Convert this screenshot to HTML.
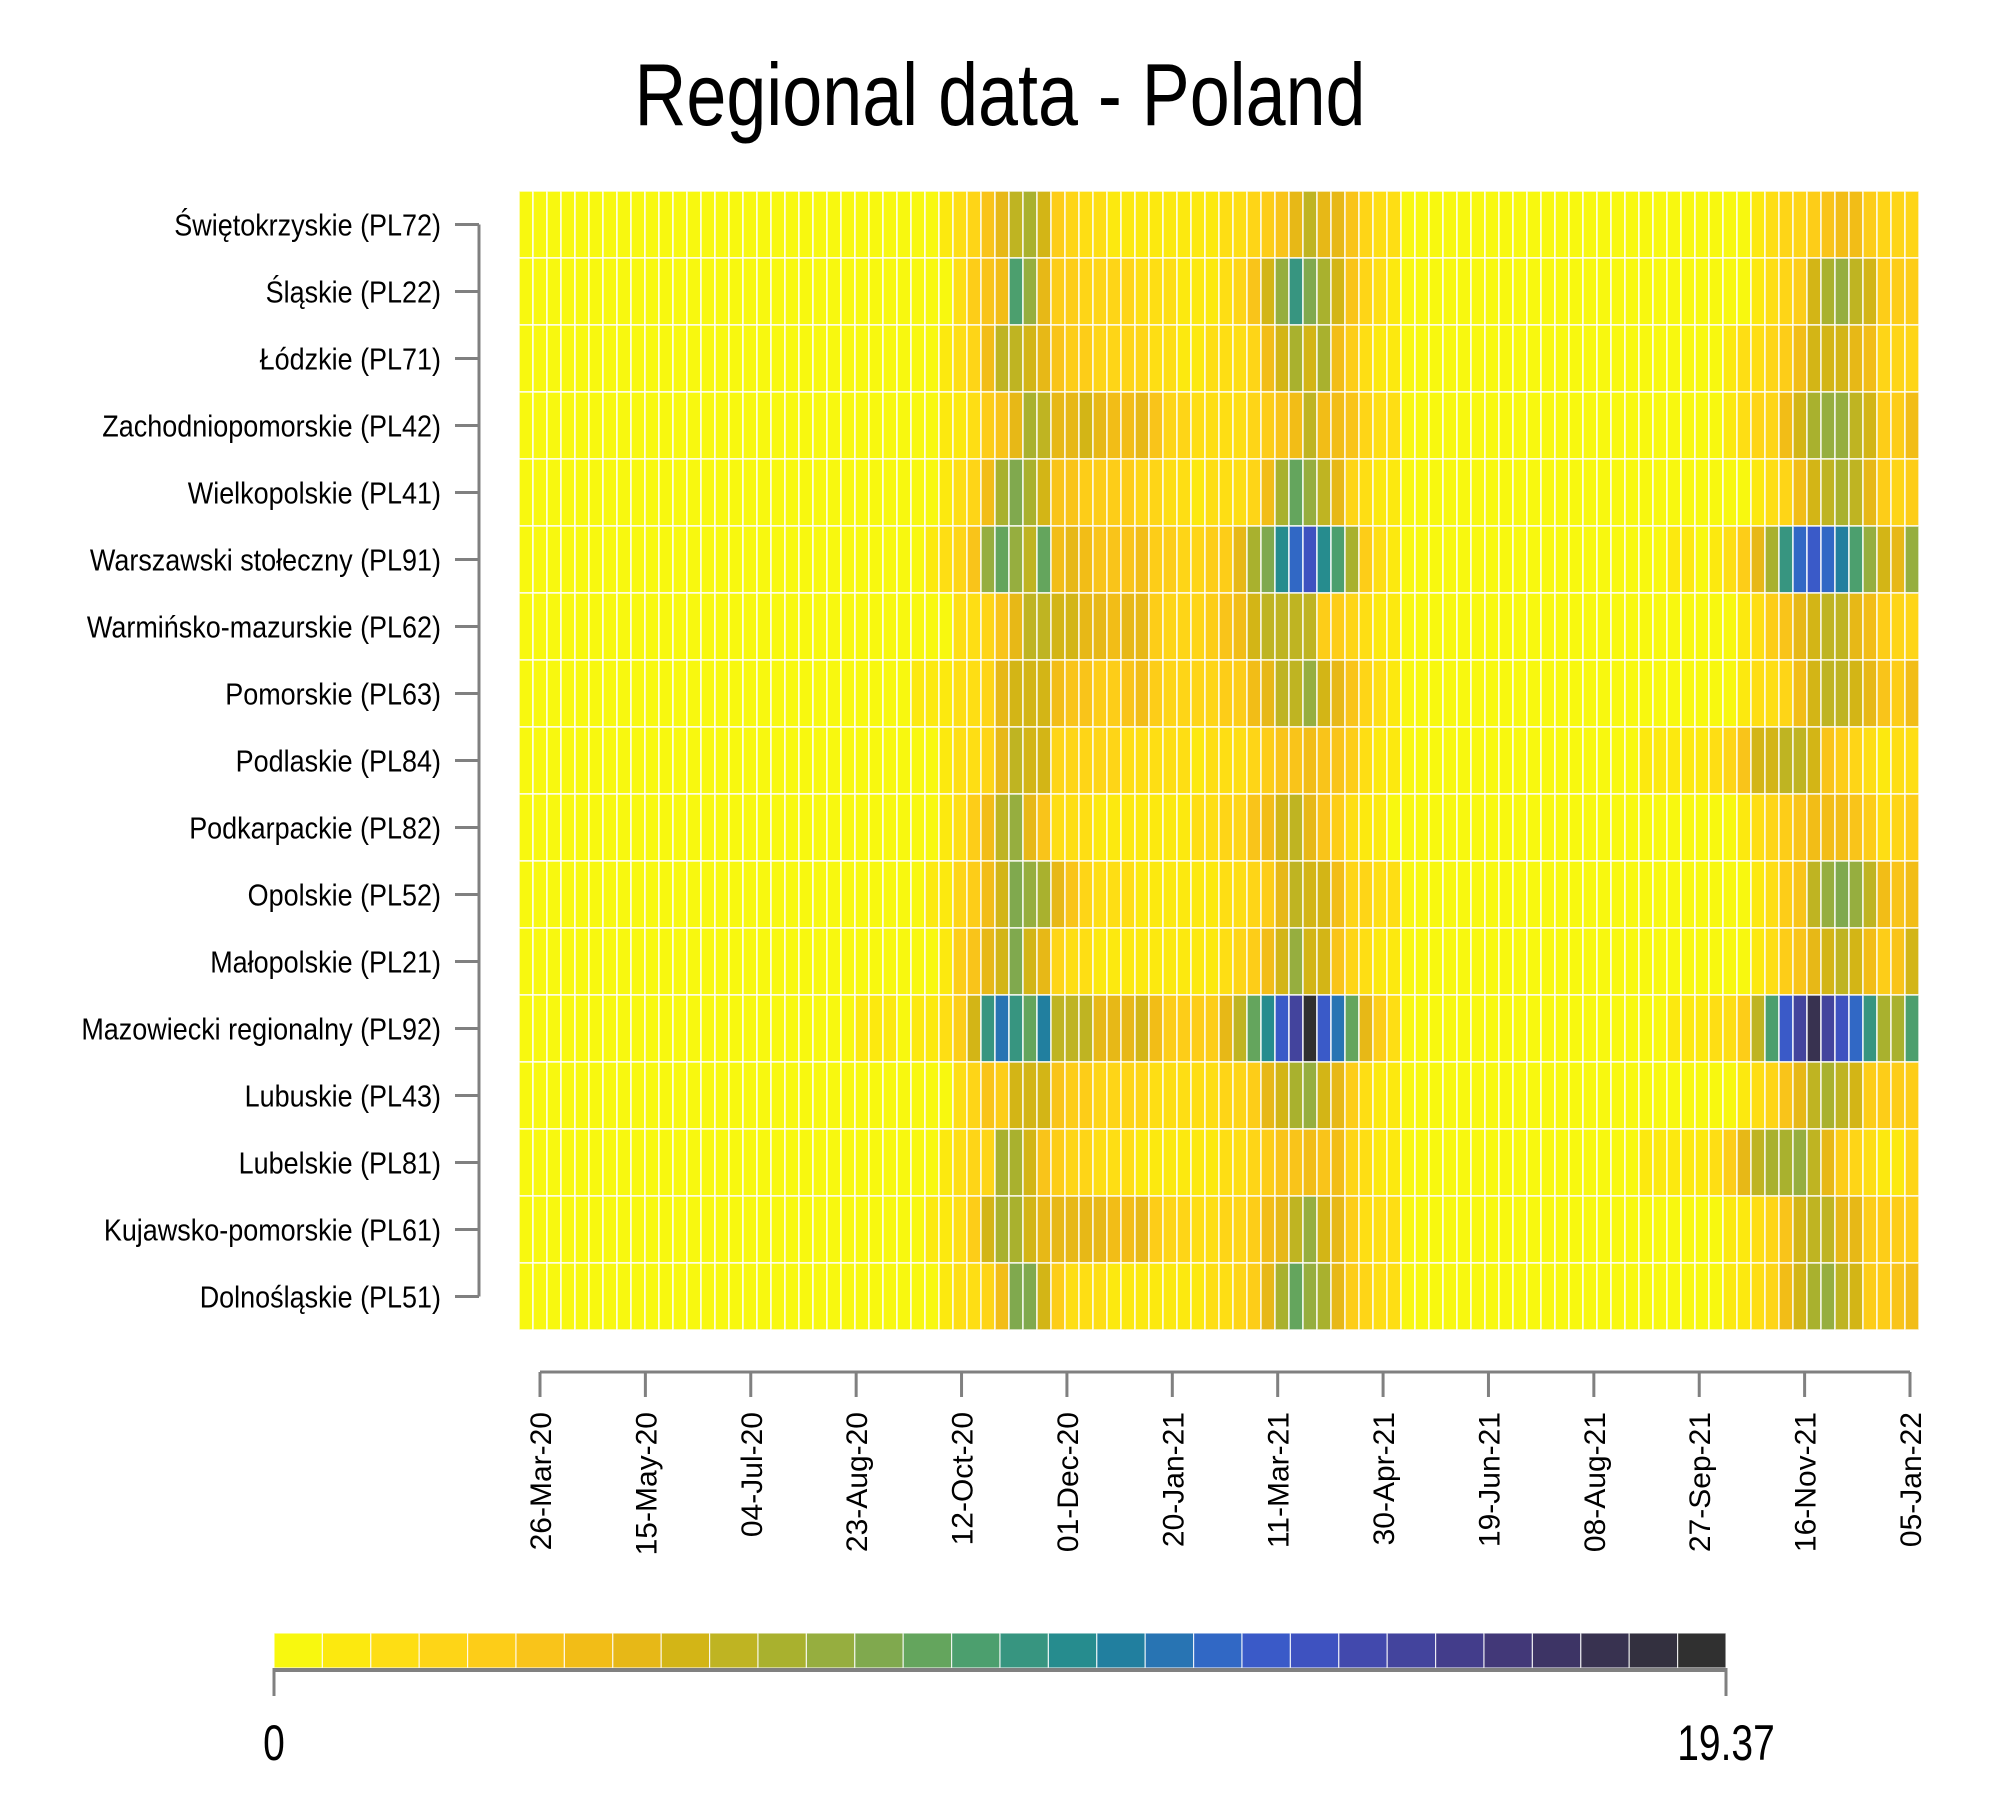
<!DOCTYPE html>
<html><head><meta charset="utf-8"><title>Regional data - Poland</title>
<style>html,body{margin:0;padding:0;background:#fff;}svg{display:block;font-family:"Liberation Sans","DejaVu Sans",sans-serif;}</style>
</head><body>
<svg id="chart" width="2000" height="1818" viewBox="0 0 2000 1818" xmlns="http://www.w3.org/2000/svg">
<rect x="0" y="0" width="2000" height="1818" fill="#fff"/>
<text x="1000" y="125" text-anchor="middle" font-size="88" textLength="731" lengthAdjust="spacingAndGlyphs" fill="#000">Regional data - Poland</text>
<g id="cells"></g>
<g id="yaxis"></g>
<g id="xaxis"></g>
<g id="legend"></g>
</svg>
<script>
const regions = ["Świętokrzyskie (PL72)","Śląskie (PL22)","Łódzkie (PL71)","Zachodniopomorskie (PL42)","Wielkopolskie (PL41)","Warszawski stołeczny (PL91)","Warmińsko-mazurskie (PL62)","Pomorskie (PL63)","Podlaskie (PL84)","Podkarpackie (PL82)","Opolskie (PL52)","Małopolskie (PL21)","Mazowiecki regionalny (PL92)","Lubuskie (PL43)","Lubelskie (PL81)","Kujawsko-pomorskie (PL61)","Dolnośląskie (PL51)"];
const xTickLabels = ["26-Mar-20","15-May-20","04-Jul-20","23-Aug-20","12-Oct-20","01-Dec-20","20-Jan-21","11-Mar-21","30-Apr-21","19-Jun-21","08-Aug-21","27-Sep-21","16-Nov-21","05-Jan-22"];
const xTickDates = ["2020-03-26","2020-05-15","2020-07-04","2020-08-23","2020-10-12","2020-12-01","2021-01-20","2021-03-11","2021-04-30","2021-06-19","2021-08-08","2021-09-27","2021-11-16","2022-01-05"];
const scaleMin = 0;
const scaleMax = 19.37;
const legendLabels = ["0","19.37"];
const palette = ["#f8f80f","#fce90f","#fede14","#fed517","#fdcd18","#f9c41a","#f2bd17","#e7b817","#d3b516","#bfb422","#a9b12e","#96ae3f","#80a94e","#64a55d","#4c9f6e","#379580","#268c8e","#217f9f","#2874b3","#3168c5","#3a5ac8","#3e52c0","#4249ad","#43449d","#433d8b","#423878","#3d3465","#383250","#33303f","#303030"];

const rowPL72 = [0.3,0.3,0.3,0.3,0.3,0.3,0.3,0.3,0.3,0.3,0.3,0.3,0.3,0.3,0.3,0.3,0.3,0.3,0.3,0.3,0.3,0.3,0.3,0.3,0.3,0.3,0.3,
0.3,0.3,0.3,1.0,1.6,2.3,3.6,4.8,6.1,6.8,5.5,2.9,2.3,1.6,1.6,1.0,1.0,1.0,1.0,1.0,1.0,1.0,1.0,1.6,1.6,2.3,2.9,3.6,4.8,6.1,4.8,4.8,3.6,2.3,1.6,1.6,
0.3,0.3,0.3,0.3,0.3,0.3,0.3,0.3,0.3,0.3,0.3,0.3,0.3,0.3,0.3,0.3,0.3,0.3,0.3,0.3,0.3,
0.3,0.3,0.3,0.3,1.0,1.6,2.3,2.3,2.9,3.6,4.2,4.2,2.9,2.3,2.3,2.3];
const rowPL22 = [0.3,0.3,0.3,0.3,0.3,0.3,0.3,0.3,0.3,0.3,0.3,0.3,0.3,0.3,0.3,0.3,0.3,0.3,0.3,0.3,0.3,0.3,0.3,0.3,0.3,0.3,0.3,
0.3,0.3,0.3,0.3,1.6,2.9,3.6,4.2,9.4,7.4,4.8,2.9,2.9,2.3,2.3,2.3,2.3,1.6,1.6,1.6,1.0,1.0,1.0,1.6,2.3,3.6,5.5,7.4,10.0,8.1,6.8,5.5,3.6,2.3,1.6,1.0,
0.3,0.3,0.3,0.3,0.3,0.3,0.3,0.3,0.3,0.3,0.3,0.3,0.3,0.3,0.3,0.3,0.3,0.3,0.3,0.3,0.3,
0.3,0.3,0.3,0.3,1.0,1.6,2.3,2.9,5.5,6.8,7.4,6.1,5.5,2.9,2.9,2.9];
const rowPL71 = [0.3,0.3,0.3,0.3,0.3,0.3,0.3,0.3,0.3,0.3,0.3,0.3,0.3,0.3,0.3,0.3,0.3,0.3,0.3,0.3,0.3,0.3,0.3,0.3,0.3,0.3,0.3,
0.3,0.3,0.3,1.0,1.6,2.3,4.2,6.1,6.1,5.5,4.8,3.6,2.9,2.9,2.3,2.3,2.3,2.3,1.6,1.6,1.0,1.0,1.6,1.6,1.6,2.3,4.2,5.5,6.8,5.5,6.8,4.2,2.9,1.6,1.0,1.0,
0.3,0.3,0.3,0.3,0.3,0.3,0.3,0.3,0.3,0.3,0.3,0.3,0.3,0.3,0.3,0.3,0.3,0.3,0.3,0.3,0.3,
0.3,0.3,1.0,1.6,1.6,2.3,2.9,4.2,5.5,5.5,5.5,4.8,4.2,2.3,2.3,2.3];
const rowPL42 = [0.3,0.3,0.3,0.3,0.3,0.3,0.3,0.3,0.3,0.3,0.3,0.3,0.3,0.3,0.3,0.3,0.3,0.3,0.3,0.3,0.3,0.3,0.3,0.3,0.3,0.3,0.3,
0.3,0.3,0.3,1.0,1.0,1.6,2.9,3.6,4.8,6.8,6.1,4.8,4.8,5.5,4.8,4.2,4.2,4.8,3.6,2.3,2.3,1.6,1.6,1.6,1.6,2.3,2.9,3.6,4.2,6.1,4.2,4.2,3.6,2.3,1.6,1.6,
0.3,0.3,0.3,0.3,0.3,0.3,0.3,0.3,0.3,0.3,0.3,0.3,0.3,0.3,0.3,0.3,0.3,0.3,0.3,0.3,0.3,
0.3,0.3,1.0,1.6,2.3,2.3,4.2,5.5,6.8,7.4,7.4,6.1,5.5,2.9,2.9,4.2];
const rowPL41 = [0.3,0.3,0.3,0.3,0.3,0.3,0.3,0.3,0.3,0.3,0.3,0.3,0.3,0.3,0.3,0.3,0.3,0.3,0.3,0.3,0.3,0.3,0.3,0.3,0.3,0.3,0.3,
0.3,0.3,0.3,1.0,1.6,2.3,4.2,6.8,8.1,6.8,5.5,3.6,3.6,2.9,2.9,2.9,2.9,2.3,2.3,1.6,1.6,1.0,1.6,1.6,1.6,2.3,4.2,6.8,8.7,7.4,6.1,4.8,2.3,1.6,1.0,1.0,
0.3,0.3,0.3,0.3,0.3,0.3,0.3,0.3,0.3,0.3,0.3,0.3,0.3,0.3,0.3,0.3,0.3,0.3,0.3,0.3,0.3,
0.3,0.3,0.3,0.3,1.0,1.6,2.3,4.2,5.5,6.1,6.8,6.1,4.8,2.9,2.3,2.9];
const rowPL91 = [0.3,0.3,0.3,0.3,0.3,0.3,0.3,0.3,0.3,0.3,0.3,0.3,0.3,0.3,0.3,0.3,0.3,0.3,0.3,0.3,0.3,0.3,0.3,0.3,0.3,0.3,0.3,
0.3,0.3,1.0,1.6,2.3,3.6,7.4,8.7,7.4,6.1,8.7,4.2,4.8,4.2,3.6,3.6,3.6,4.2,2.9,2.9,2.3,2.3,2.9,2.9,4.8,6.8,8.1,10.7,12.6,13.9,10.7,9.4,6.8,2.9,1.6,1.0,
0.3,0.3,0.3,0.3,0.3,0.3,0.3,0.3,0.3,0.3,0.3,0.3,0.3,0.3,0.3,0.3,0.3,0.3,0.3,1.0,1.0,
0.3,1.0,1.6,2.9,4.8,6.8,10.0,12.6,13.2,12.6,11.3,9.4,7.4,5.5,4.8,7.4];
const rowPL62 = [0.3,0.3,0.3,0.3,0.3,0.3,0.3,0.3,0.3,0.3,0.3,0.3,0.3,0.3,0.3,0.3,0.3,0.3,0.3,0.3,0.3,0.3,0.3,0.3,0.3,0.3,0.3,
0.3,0.3,0.3,0.3,1.6,1.6,2.3,3.6,4.8,6.1,6.1,5.5,5.5,4.8,4.8,4.2,4.8,4.8,2.9,2.3,2.3,2.3,2.9,3.6,4.2,5.5,6.1,6.1,6.1,6.1,2.9,2.9,2.3,1.6,1.0,1.0,
0.3,0.3,0.3,0.3,0.3,0.3,0.3,0.3,0.3,0.3,0.3,0.3,0.3,0.3,0.3,0.3,0.3,0.3,0.3,0.3,0.3,
0.3,0.3,0.3,1.0,1.6,2.9,3.6,4.8,5.5,6.1,6.1,4.8,4.2,2.9,2.3,2.3];
const rowPL63 = [0.3,0.3,0.3,0.3,0.3,0.3,0.3,0.3,0.3,0.3,0.3,0.3,0.3,0.3,0.3,0.3,0.3,0.3,0.3,0.3,0.3,0.3,0.3,0.3,0.3,0.3,0.3,
0.3,1.0,1.0,1.0,1.6,1.6,2.3,4.8,5.5,5.5,5.5,4.2,3.6,3.6,2.9,2.9,3.6,4.2,2.9,2.3,2.3,2.3,2.3,2.9,2.9,4.2,4.8,6.1,6.1,7.4,5.5,4.8,3.6,2.3,1.6,1.0,
0.3,0.3,0.3,0.3,0.3,0.3,0.3,0.3,0.3,0.3,0.3,0.3,0.3,0.3,0.3,0.3,0.3,0.3,0.3,0.3,0.3,
0.3,0.3,0.3,1.0,1.6,1.6,2.3,4.2,5.5,6.1,6.1,5.5,4.8,3.6,2.9,4.2];
const rowPL84 = [0.3,0.3,0.3,0.3,0.3,0.3,0.3,0.3,0.3,0.3,0.3,0.3,0.3,0.3,0.3,0.3,0.3,0.3,0.3,0.3,0.3,0.3,0.3,0.3,0.3,0.3,0.3,
0.3,0.3,0.3,1.0,1.6,1.6,2.3,4.8,6.1,5.5,5.5,2.3,2.3,2.3,2.3,2.3,1.6,1.6,1.6,1.6,1.6,1.0,1.6,1.6,1.6,2.3,2.9,3.6,3.6,4.2,3.6,3.6,2.9,1.6,1.0,1.0,
0.3,0.3,0.3,0.3,0.3,0.3,0.3,0.3,0.3,0.3,0.3,0.3,0.3,0.3,0.3,0.3,0.3,1.0,1.0,1.0,1.0,
1.0,1.6,2.3,3.6,5.5,5.5,6.1,6.1,5.5,3.6,2.9,2.3,1.6,1.0,1.6,1.6];
const rowPL82 = [0.3,0.3,0.3,0.3,0.3,0.3,0.3,0.3,0.3,0.3,0.3,0.3,0.3,0.3,0.3,0.3,0.3,0.3,0.3,0.3,0.3,0.3,0.3,0.3,0.3,0.3,0.3,
0.3,0.3,0.3,1.0,1.6,2.9,4.2,6.1,7.4,4.8,3.6,1.6,1.6,1.6,1.0,1.0,1.0,1.0,1.0,1.0,1.0,1.6,1.6,2.3,2.3,3.6,4.2,5.5,6.1,4.8,3.6,2.9,1.6,1.0,1.0,0.3,
0.3,0.3,0.3,0.3,0.3,0.3,0.3,0.3,0.3,0.3,0.3,0.3,0.3,0.3,0.3,0.3,0.3,0.3,0.3,0.3,0.3,
0.3,0.3,0.3,1.0,1.6,2.3,2.9,3.6,4.2,4.2,4.2,3.6,2.9,1.6,2.3,2.9];
const rowPL52 = [0.3,0.3,0.3,0.3,0.3,0.3,0.3,0.3,0.3,0.3,0.3,0.3,0.3,0.3,0.3,0.3,0.3,0.3,0.3,0.3,0.3,0.3,0.3,0.3,0.3,0.3,0.3,
0.3,0.3,1.0,1.0,2.3,2.9,4.2,5.5,8.1,7.4,6.8,4.8,3.6,2.3,1.6,1.6,1.6,1.0,1.0,1.0,1.0,1.0,1.0,1.6,1.6,2.3,2.9,4.8,6.1,5.5,5.5,4.2,2.3,2.3,1.6,1.6,
0.3,0.3,0.3,0.3,0.3,0.3,0.3,0.3,0.3,0.3,0.3,0.3,0.3,0.3,0.3,0.3,0.3,0.3,0.3,0.3,0.3,
0.3,0.3,0.3,0.3,1.0,1.6,2.9,3.6,6.1,7.4,8.1,7.4,6.1,4.2,3.6,4.2];
const rowPL21 = [0.3,0.3,0.3,0.3,0.3,0.3,0.3,0.3,0.3,0.3,0.3,0.3,0.3,0.3,0.3,0.3,0.3,0.3,0.3,0.3,0.3,0.3,0.3,0.3,0.3,0.3,0.3,
0.3,0.3,0.3,1.0,2.9,3.6,4.8,5.5,8.1,5.5,4.8,2.3,1.6,1.6,1.0,1.0,1.0,1.0,1.0,1.0,1.0,1.0,1.0,1.6,2.3,2.9,4.2,5.5,7.4,5.5,5.5,3.6,2.3,1.6,1.0,1.0,
0.3,0.3,0.3,0.3,0.3,0.3,0.3,0.3,0.3,0.3,0.3,0.3,0.3,0.3,0.3,0.3,0.3,0.3,0.3,0.3,0.3,
0.3,0.3,0.3,0.3,1.0,1.6,2.9,3.6,4.8,5.5,6.1,5.5,4.2,2.9,3.6,5.5];
const rowPL92 = [0.3,0.3,0.3,0.3,0.3,0.3,0.3,0.3,0.3,0.3,0.3,0.3,0.3,0.3,0.3,0.3,0.3,0.3,0.3,0.3,0.3,0.3,0.3,0.3,1.0,1.0,1.0,
0.3,1.0,1.0,1.6,2.9,5.5,10.0,12.0,10.0,8.7,11.3,6.1,6.1,6.1,4.8,4.8,4.8,5.5,4.2,2.9,2.9,2.9,2.9,4.8,6.1,8.7,10.7,13.2,15.2,19.37,13.2,12.0,8.7,4.8,2.9,1.6,
0.3,0.3,0.3,0.3,0.3,0.3,0.3,0.3,0.3,0.3,0.3,0.3,0.3,0.3,0.3,0.3,0.3,0.3,0.3,1.0,1.0,
1.0,1.6,1.6,2.9,6.1,9.4,13.2,15.2,17.8,15.2,13.9,12.6,10.0,6.8,6.8,9.4];
const rowPL43 = [0.3,0.3,0.3,0.3,0.3,0.3,0.3,0.3,0.3,0.3,0.3,0.3,0.3,0.3,0.3,0.3,0.3,0.3,0.3,0.3,0.3,0.3,0.3,0.3,0.3,0.3,0.3,
0.3,0.3,0.3,0.3,1.6,2.3,3.6,2.9,5.5,5.5,5.5,3.6,2.9,2.9,2.3,2.3,2.3,2.3,1.6,1.6,1.6,1.6,1.6,2.3,2.3,2.9,4.8,5.5,6.8,7.4,5.5,4.8,2.9,1.6,1.0,1.0,
0.3,0.3,0.3,0.3,0.3,0.3,0.3,0.3,0.3,0.3,0.3,0.3,0.3,0.3,0.3,0.3,0.3,0.3,0.3,0.3,0.3,
0.3,0.3,0.3,1.0,1.6,2.3,3.6,4.8,6.1,6.8,6.1,5.5,2.9,2.9,2.9,2.9];
const rowPL81 = [0.3,0.3,0.3,0.3,0.3,0.3,0.3,0.3,0.3,0.3,0.3,0.3,0.3,0.3,0.3,0.3,0.3,0.3,0.3,0.3,0.3,0.3,0.3,0.3,0.3,0.3,0.3,
0.3,0.3,0.3,1.0,1.6,2.3,2.3,6.8,6.8,5.5,3.6,2.9,2.3,2.3,1.6,1.6,1.6,1.0,1.0,1.0,1.0,1.0,1.0,1.6,1.6,2.3,2.9,3.6,3.6,4.2,3.6,4.2,2.3,1.6,1.0,1.0,
0.3,0.3,0.3,0.3,0.3,0.3,0.3,0.3,0.3,0.3,0.3,0.3,0.3,0.3,0.3,0.3,0.3,1.0,1.0,1.0,1.0,
1.0,1.6,2.9,4.8,6.1,6.8,6.8,7.4,6.1,4.8,2.9,2.3,1.6,1.0,1.0,2.3];
const rowPL61 = [0.3,0.3,0.3,0.3,0.3,0.3,0.3,0.3,0.3,0.3,0.3,0.3,0.3,0.3,0.3,0.3,0.3,0.3,0.3,0.3,0.3,0.3,0.3,0.3,0.3,0.3,0.3,
0.3,0.3,1.0,1.0,1.6,2.9,5.5,6.8,6.8,5.5,4.8,4.8,4.8,4.8,4.8,4.2,4.2,4.8,2.9,2.3,2.3,1.6,1.6,2.3,2.3,2.9,4.2,4.8,6.1,7.4,5.5,4.8,2.9,1.6,1.6,1.6,
0.3,0.3,0.3,0.3,0.3,0.3,0.3,0.3,0.3,0.3,0.3,0.3,0.3,0.3,0.3,0.3,0.3,0.3,0.3,0.3,0.3,
0.3,0.3,1.0,1.0,1.6,2.3,3.6,5.5,6.1,6.1,4.8,4.8,2.9,2.9,2.9,2.9];
const rowPL51 = [0.3,0.3,0.3,0.3,0.3,0.3,0.3,0.3,0.3,0.3,0.3,0.3,0.3,0.3,0.3,0.3,0.3,0.3,0.3,0.3,0.3,0.3,0.3,0.3,0.3,0.3,0.3,
0.3,0.3,0.3,1.0,1.6,1.6,2.3,4.2,8.1,8.1,5.5,2.9,1.6,1.6,1.6,1.0,1.0,1.0,1.0,1.0,1.0,1.0,1.6,1.6,2.3,2.9,4.8,6.8,8.7,7.4,6.8,4.8,2.9,2.3,1.6,1.6,
0.3,0.3,0.3,0.3,0.3,0.3,0.3,0.3,0.3,0.3,0.3,0.3,0.3,0.3,0.3,0.3,0.3,0.3,0.3,0.3,0.3,
0.3,0.3,1.0,1.0,1.6,2.3,4.2,5.5,6.8,7.4,6.1,5.5,2.9,2.9,3.6,4.2];

const seriesRows = [rowPL72,rowPL22,rowPL71,rowPL42,rowPL41,rowPL91,rowPL62,rowPL63,rowPL84,rowPL82,rowPL52,rowPL21,rowPL92,rowPL43,rowPL81,rowPL61,rowPL51];

const NS = "http://www.w3.org/2000/svg";
function mk(tag, attrs){ const e=document.createElementNS(NS,tag); for(const k in attrs) e.setAttribute(k,attrs[k]); return e; }

const plotL=519, plotR=1919, plotT=191, plotB=1330;
const nCols = rowPL72.length;
const colW = (plotR-plotL)/nCols;
const rowH = (plotB-plotT)/regions.length;
function xBand(i){ return plotL + i*colW; }
function yBand(r){ return plotT + r*rowH; }
function colorFor(v){ let k=Math.floor((v-scaleMin)/(scaleMax-scaleMin)*palette.length); if(k<0)k=0; if(k>=palette.length)k=palette.length-1; return palette[k]; }

const cells=document.getElementById('cells');
seriesRows.forEach((row,r)=>{
  row.forEach((v,i)=>{
    const c=mk('rect',{x:xBand(i).toFixed(2),y:yBand(r).toFixed(2),width:colW.toFixed(2),height:rowH.toFixed(2),fill:colorFor(v),stroke:'#ffffff','stroke-width':'1.6','stroke-opacity':'0.8'});
    
    
    cells.appendChild(c);
  });
});

const ya=document.getElementById('yaxis');
const brX=479, tickL=455;
const yb=mk('line',{x1:brX,y1:yBand(0)+rowH/2,x2:brX,y2:yBand(regions.length-1)+rowH/2,stroke:'#808080','stroke-width':'3'});


ya.appendChild(yb);
regions.forEach((name,r)=>{
  const cy=yBand(r)+rowH/2;
  const t=mk('line',{x1:tickL,y1:cy,x2:brX,y2:cy,stroke:'#808080','stroke-width':'3'});
  
  
  ya.appendChild(t);
  const tx=mk('text',{'text-anchor':'end','font-size':'31',fill:'#000',transform:'translate(441,'+(cy+11).toFixed(1)+') scale(0.87,1)'});
  tx.textContent=name;
  
  
  ya.appendChild(tx);
});

const xa=document.getElementById('xaxis');
const d0=Date.parse(xTickDates[0]), d1=Date.parse(xTickDates[xTickDates.length-1]);
const ax0=540, ax1=1910, axY=1372;
function xDate(s){ return ax0 + (Date.parse(s)-d0)/(d1-d0)*(ax1-ax0); }
const xl=mk('line',{x1:xDate(xTickDates[0]),y1:axY,x2:xDate(xTickDates[xTickDates.length-1]),y2:axY,stroke:'#808080','stroke-width':'3'});


xa.appendChild(xl);
xTickDates.forEach((d,i)=>{
  const x=xDate(d);
  const t=mk('line',{x1:x,y1:axY,x2:x,y2:1397,stroke:'#808080','stroke-width':'3'});
  
  
  xa.appendChild(t);
  const tx=mk('text',{'text-anchor':'end','font-size':'30',fill:'#000',transform:'translate('+(x+11).toFixed(1)+',1412) rotate(-90)'});
  tx.textContent=xTickLabels[i];
  
  
  xa.appendChild(tx);
});

const lg=document.getElementById('legend');
const lx0=274, lx1=1726, ly0=1633, ly1=1668;
const sw=(lx1-lx0)/palette.length;
palette.forEach((c,i)=>{
  const r=mk('rect',{x:(lx0+i*sw).toFixed(2),y:ly0,width:sw.toFixed(2),height:ly1-ly0,fill:c,stroke:'#ffffff','stroke-width':'1.2','stroke-opacity':'0.8'});
  
  
  lg.appendChild(r);
});
const lb=mk('line',{x1:lx0,y1:ly1+2,x2:lx1,y2:ly1+2,stroke:'#808080','stroke-width':'4'});


lg.appendChild(lb);
[lx0,lx1].forEach((x,i)=>{
  const t=mk('line',{x1:x,y1:ly1,x2:x,y2:1696,stroke:'#808080','stroke-width':'3'});
  
  
  lg.appendChild(t);
  const tx=mk('text',{'text-anchor':'middle','font-size':'50',fill:'#000',transform:'translate('+x+',1760) scale(0.78,1)'});
  tx.textContent=legendLabels[i];
  
  
  lg.appendChild(tx);
});
</script>
</body></html>
